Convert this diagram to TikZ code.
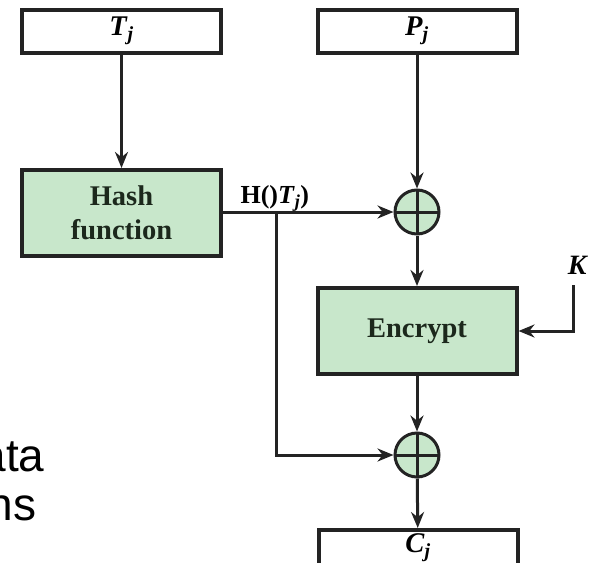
\documentclass[tikz,border=0pt]{standalone}
\usepackage{fontspec}
\setmainfont{Liberation Serif}
\newfontfamily\slidefont{Liberation Sans}
\usetikzlibrary{arrows.meta}
\definecolor{boxgreen}{RGB}{200,231,203}
\definecolor{edgegray}{RGB}{35,35,35}
\definecolor{inkgreen}{RGB}{28,40,28}
\newcommand{\varsub}[2]{\textit{#1}\textsubscript{\textit{#2}}}
\begin{document}
\begin{tikzpicture}[x=1pt,y=-1pt,line join=miter,>={Stealth[length=16pt,width=13pt]},font=\fontsize{28.5}{34}\selectfont\bfseries]
	\tikzset{databox/.style={draw=edgegray,line width=4pt,minimum width=199pt,minimum height=43pt,inner sep=0pt},
	funcbox/.style={databox,fill=boxgreen,text=inkgreen,minimum height=86pt,align=center},
	xorgate/.style={circle,draw=edgegray,fill=boxgreen,line width=3pt,minimum size=44pt,inner sep=0pt,
		path picture={\draw[edgegray,line width=3pt] (path picture bounding box.north)--(path picture bounding box.south)
		(path picture bounding box.west)--(path picture bounding box.east);}},
	flow/.style={->,draw=edgegray,line width=3pt}}
	\useasboundingbox (0,0) rectangle (594,562);
	\clip (0,0) rectangle (594,562);
	% blocks
	\node[databox] (tj) at (121.5,31) {\varsub{T}{j}};
	\node[databox] (pj) at (417,31) {\varsub{P}{j}};
	\node[funcbox] (hash) at (121.5,213) {Hash\\function};
	\node[xorgate] (xa) at (417,212) {};
	\node[funcbox] (enc) at (417,331) {Encrypt};
	\node[xorgate] (xb) at (417,455) {};
	\node[databox,anchor=north,text height=22pt,text depth=21pt] (cj) at (418,528) {\varsub{C}{j}};
	\node[anchor=base west,font=\fontsize{26}{30}\selectfont\bfseries] (hval) at (237,203) {H()\varsub{T}{j})};
	\node[font=\fontsize{28}{30}\selectfont\bfseries] (key) at (578,265) {\textit{K}};
	\coordinate (split) at (276,212);
	\coordinate (keyin) at (573,285);
	% connectors
	\draw[flow] (tj) -- (hash);
	\draw[flow] (pj) -- (xa);
	\draw[flow] (split -| hash.east) -- (xa);
	\draw[flow] (split) |- (xb);
	\draw[flow] (xa) -- (enc);
	\draw[flow] (keyin) |- (enc);
	\draw[flow] (enc) -- (xb);
	\draw[flow] (xb) -- (cj);
	% slide text behind
	\node[anchor=base east,font=\slidefont\mdseries\fontsize{46}{50}\selectfont] (wordone) at (48,471) {ata};
	\node[anchor=base east,font=\slidefont\mdseries\fontsize{46}{50}\selectfont] (wordtwo) at (40,520) {ns};
\end{tikzpicture}
\end{document}
